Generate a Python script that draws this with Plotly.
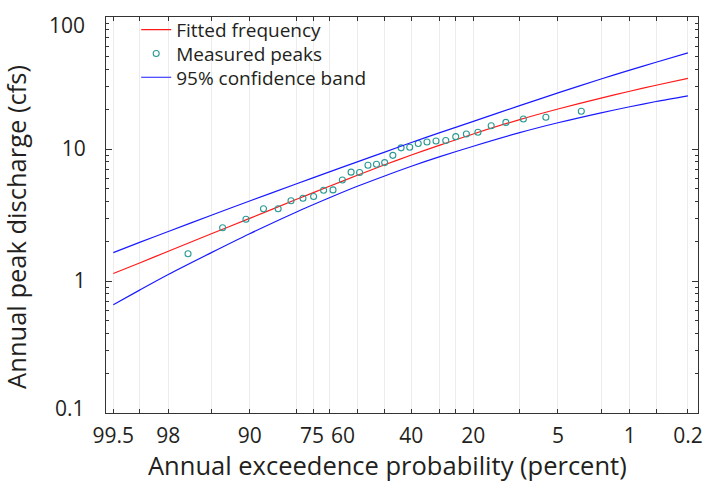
import plotly.graph_objects as go
from statistics import NormalDist

# ---------------- data ----------------
# Annual exceedance probability (percent) at which the fitted curve and the
# confidence limits are tabulated
curve_prob = [99.5, 99, 98, 95, 90, 80, 70, 60, 50, 40, 30, 20, 10, 5, 2, 1, 0.5, 0.2]
fitted_q = [1.14, 1.37, 1.68, 2.28, 2.98, 4.14, 5.22, 6.35, 7.59, 9.00, 10.7, 13.0, 16.7, 20.1, 24.3, 27.4, 30.4, 34.3]
upper_q = [1.64, 1.96, 2.37, 3.15, 4.04, 5.43, 6.71, 8.03, 9.48, 11.2, 13.3, 16.2, 21.3, 26.6, 33.9, 39.6, 45.4, 53.5]
lower_q = [0.66, 0.853, 1.12, 1.64, 2.28, 3.32, 4.27, 5.24, 6.25, 7.40, 8.75, 10.5, 13.3, 15.8, 18.8, 20.9, 22.9, 25.3]

# Measured annual peaks (plotting position in percent, discharge in cfs)
peak_prob = [96.9, 93.8, 90.6, 87.5, 84.4, 81.3, 78.1, 75.0, 71.9, 68.8, 65.6,
             62.5, 59.4, 56.3, 53.1, 50.0, 46.9, 43.8, 40.6, 37.5, 34.4, 31.3,
             28.1, 25.0, 21.9, 18.8, 15.6, 12.5, 9.4, 6.3, 3.1]
peak_q = [1.61, 2.53, 2.94, 3.53, 3.53, 4.05, 4.24, 4.37, 4.87, 4.90, 5.82,
          6.68, 6.64, 7.54, 7.67, 7.89, 8.95, 10.2, 10.3, 11.0, 11.3, 11.5,
          11.6, 12.4, 13.0, 13.4, 15.0, 15.9, 16.9, 17.4, 19.3]

# Probability-axis ticks
tick_prob = [99.5, 99, 98, 95, 90, 80, 75, 70, 60, 50, 40, 30, 25, 20, 10, 5, 2, 1, 0.5, 0.2]
tick_text = ["99.5", "", "98", "", "90", "", "", "", "", "", "40", "", "", "20", "", "5", "", "1", "", "0.2"]
# labels that sit slightly left of their tick in the original: (probability, text, nudge px)
x_nudged_labels = [(75, "75", -2), (60, "60", -15)]

y_tick_vals = [0.1, 1, 10, 100]
y_tick_text = ["", "1", "10", ""]          # 0.1 and 100 are drawn as nudged labels below
y_end_labels = [(-1, "0.1", 5), (2, "100", -8)]   # (log10 value, text, upward nudge px)
y_minor_vals = [m * d for d in (0.1, 1, 10) for m in range(2, 10)]

# ---------------- probability scale (normal variate) ----------------
nd = NormalDist()


def zpos(p):
    return nd.inv_cdf(1 - p / 100.0)


curve_x = [zpos(p) for p in curve_prob]
peak_x = [zpos(p) for p in peak_prob]
tick_x = [zpos(p) for p in tick_prob]

FONT = "Open Sans"
TXT = "#231f20"
AX = "#333333"
LEG_FONT = dict(size=19, family=FONT, color=TXT)
TICK_FONT = dict(size=21, family=FONT, color=TXT)

fig = go.Figure()
fig.add_trace(go.Scatter(
    x=curve_x, y=fitted_q, mode="lines", name="Fitted frequency", legend="legend",
    line=dict(color="#ff1a1a", width=1.2, shape="spline", smoothing=0.8)))
fig.add_trace(go.Scatter(
    x=peak_x, y=peak_q, mode="markers", name="Measured peaks", legend="legend2",
    marker=dict(symbol="circle-open", size=6, color="#2a9a94", line=dict(width=1.1))))
fig.add_trace(go.Scatter(
    x=curve_x, y=upper_q, mode="lines", name="95% confidence band", legend="legend3",
    line=dict(color="#1a1aff", width=1.2, shape="spline", smoothing=0.8)))
fig.add_trace(go.Scatter(
    x=curve_x, y=lower_q, mode="lines", name="95% confidence band", showlegend=False,
    line=dict(color="#1a1aff", width=1.2, shape="spline", smoothing=0.8)))


def leg(ypix):
    return dict(x=0.051, y=(413 - ypix) / 400, xanchor="left", yanchor="middle",
                bgcolor="rgba(0,0,0,0)", font=LEG_FONT, itemwidth=30)


fig.update_layout(
    width=709, height=482,
    margin=dict(l=106, r=11, t=13, b=69),
    paper_bgcolor="white", plot_bgcolor="white",
    font=dict(family=FONT, color=TXT),
    legend=leg(26), legend2=leg(50), legend3=leg(74),
    showlegend=True,
)

fig.update_xaxes(
    range=[-2.645, 2.974], automargin=False,
    tickmode="array", tickvals=tick_x, ticktext=tick_text,
    ticks="inside", ticklen=4, tickwidth=1, tickcolor=AX,
    showline=True, linecolor=AX, linewidth=1, mirror="ticks",
    showgrid=True, gridcolor="#ececec", gridwidth=1, zeroline=False,
    tickfont=TICK_FONT, ticklabelstandoff=4,
)
fig.update_yaxes(
    type="log", range=[-1.0001, 2.0001], automargin=False,
    tickmode="array", tickvals=y_tick_vals, ticktext=y_tick_text,
    ticks="inside", ticklen=6, tickwidth=1, tickcolor=AX,
    minor=dict(tickmode="array", tickvals=y_minor_vals, ticks="inside", ticklen=3,
               tickcolor=AX, showgrid=False),
    showline=True, linecolor=AX, linewidth=1, mirror="ticks",
    showgrid=False, zeroline=False,
    tickfont=TICK_FONT, ticklabelstandoff=15,
)

# end labels of the y axis (nudged inside the axis span, as in the original)
for logv, txt, shift in y_end_labels:
    fig.add_annotation(x=0, xref="paper", xanchor="right", xshift=-19,
                       y=logv, yref="y", yshift=shift, yanchor="middle",
                       text=txt, showarrow=False, font=TICK_FONT)

# probability labels that are offset from their ticks in the original
for p, txt, shift in x_nudged_labels:
    fig.add_annotation(x=zpos(p), xref="x", xshift=shift, xanchor="center",
                       y=0, yref="paper", yshift=-22, yanchor="middle", height=22,
                       text=txt, showarrow=False, font=TICK_FONT)

# axis titles
fig.add_annotation(x=(387 - 106) / 592, xref="paper", y=0, yref="paper",
                   xanchor="center", yanchor="middle", yshift=-52,
                   text="Annual exceedence probability (percent)", showarrow=False,
                   font=dict(size=25.5, family=FONT, color=TXT))
fig.add_annotation(x=0, xref="paper", y=(413 - 225) / 400, yref="paper",
                   text="Annual peak discharge (cfs)", showarrow=False, textangle=-90,
                   xanchor="center", yanchor="middle", xshift=-90,
                   font=dict(size=25.5, family=FONT, color=TXT))

# remove the browser's default 8px page margin so the figure fills the window exactly
fig.write_html("out.html", config={"displayModeBar": False},
               post_script="document.body.style.margin='0px';")
